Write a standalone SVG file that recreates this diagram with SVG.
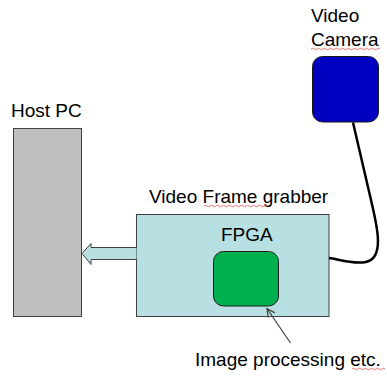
<svg xmlns="http://www.w3.org/2000/svg" width="387" height="376" viewBox="0 0 387 376">
<style>
text{font-family:"Liberation Sans",Arial,sans-serif;font-size:19px;fill:#000}
.squig{fill:none;stroke:#e06060;stroke-width:0.9}
</style>
<defs>
<marker id="open" markerWidth="10" markerHeight="10" refX="9" refY="5" orient="auto" markerUnits="userSpaceOnUse">
<path d="M1,1 L9,5 L1,9" fill="none" stroke="#404040" stroke-width="1.2"/>
</marker>
</defs>
<rect width="387" height="376" fill="#fff"/>
<g id="host-pc">
<rect x="13.5" y="128.5" width="68" height="188" fill="#bfbfbf" stroke="#404040" stroke-width="1"/>
<text x="11" y="117">Host PC</text>
</g>
<g id="video-camera">
<rect x="312.5" y="56.5" width="66" height="65.5" rx="10" fill="#0000c0" stroke="#1a1a1a" stroke-width="1"/>
<text x="311" y="22">Video</text>
<text x="311" y="46">Camera</text>
<path class="squig" d="M311,49 q1.5,-1.5 3,0 t3,0 t3,0 t3,0 t3,0 t3,0 t3,0 t3,0 t3,0 t3,0 t3,0 t3,0 t3,0 t3,0 t3,0 t3,0 t3,0 t3,0 t3,0 t3,0 t3,0 t3,0 t3,0"/>
</g>
<g id="frame-grabber">
<rect x="136.5" y="214.5" width="192.5" height="102" fill="#b8dfe2" stroke="#404040" stroke-width="1"/>
<text x="149" y="203">Video Frame grabber</text>
<path class="squig" d="M204,206 q1.5,-1.5 3,0 t3,0 t3,0 t3,0 t3,0 t3,0 t3,0 t3,0 t3,0 t3,0 t3,0 t3,0 t3,0 t3,0 t3,0 t3,0 t3,0 t3,0 t3,0 t3,0 t3,0"/>
<text x="221" y="241">FPGA</text>
</g>
<g id="fpga-block">
<rect x="213.5" y="251.5" width="65" height="54.5" rx="10" fill="#00b050" stroke="#1a1a1a" stroke-width="1"/>
</g>
<g id="image-processing-label">
<text x="195" y="366">Image processing etc.</text>
<path class="squig" d="M352,369 q1.5,-1.5 3,0 t3,0 t3,0 t3,0 t3,0 t3,0 t3,0 t3,0 t3,0 t3,0 t3,0"/>
</g>
<g id="connectors">
<path d="M136.5,247.5 L91,247.5 L91,243.5 L82,253.5 L91,264.5 L91,259.5 L136.5,259.5" fill="#b8dfe2" stroke="#404040" stroke-width="1"/>
<path d="M353,122.5 L371,200 C376,222 386,258 366,262 C352,264.5 338,259 329,258" fill="none" stroke="#000" stroke-width="2.5"/>
<line x1="290.5" y1="343" x2="267" y2="308.5" stroke="#404040" stroke-width="1.2" marker-end="url(#open)"/>
</g>
</svg>
